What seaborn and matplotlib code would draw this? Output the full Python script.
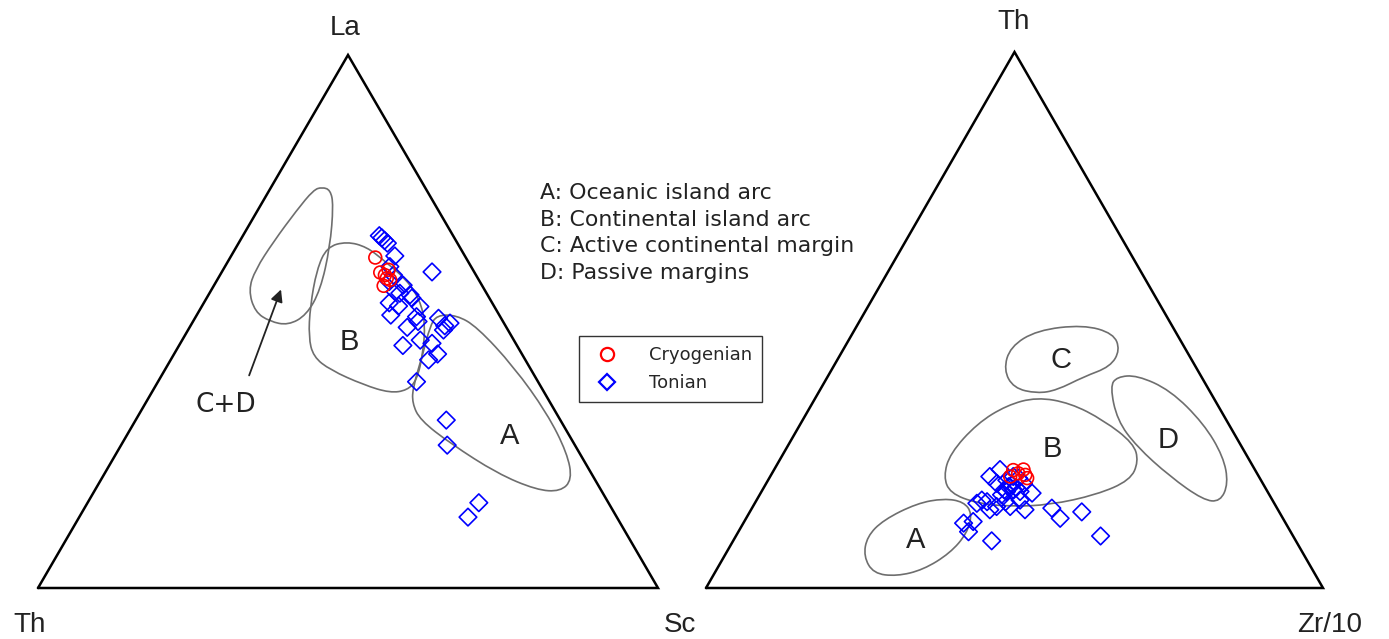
import numpy as np
import pandas as pd
import matplotlib
matplotlib.use("Agg")
import matplotlib.pyplot as plt
from matplotlib.path import Path
from matplotlib.patches import PathPatch
from matplotlib.lines import Line2D
import seaborn as sns

sns.set_style("white")
plt.rcParams["font.family"] = ["Liberation Sans", "DejaVu Sans"]

# La-Th-Sc diagram (values in %: La = top, Sc = right, Th = rest)
la_cryo = [62.0, 59.2, 58.7, 58.1, 56.7, 57.8, 59.7]
sc_cryo = [23.4, 25.6, 26.6, 27.2, 27.4, 27.9, 26.7]

la_ton = [66.1, 65.7, 65.2, 64.7, 62.3, 59.3, 60.3, 57.5, 56.8, 55.0, 54.4, 53.5,
          52.9, 52.8, 51.2, 50.9, 50.0, 48.9, 50.6, 49.2, 49.7, 48.4, 46.5, 45.5,
          45.9, 43.9, 42.8, 38.7, 31.5, 26.8, 16.0, 13.3, 55.6, 55.3, 58.7]
sc_ton = [22.0, 22.6, 23.3, 24.0, 26.4, 33.9, 26.6, 27.9, 30.5, 32.5, 33.1, 29.9,
          31.7, 35.2, 31.3, 35.6, 36.3, 35.1, 39.3, 41.0, 41.6, 41.2, 38.4, 36.1,
          40.6, 42.5, 41.6, 41.7, 50.1, 52.6, 63.1, 62.7, 29.8, 30.7, 28.0]

# field outlines, La-Th-Sc
cd_la = [74.7, 71.9, 64.0, 55.9, 51.2, 49.3, 50.0, 51.8, 55.9, 59.7, 65.0, 70.9, 74.7, 75.2]
cd_sc = [9.8, 11.7, 15.1, 17.6, 17.7, 15.7, 12.4, 9.1, 6.0, 5.2, 5.5, 6.3, 7.1, 8.2]
b1_la = [64.0, 65.0, 64.0, 61.5, 57.8, 54.0, 49.7, 44.0, 39.0, 37.1, 36.6, 38.1, 40.9,
         43.4, 47.1, 52.8, 59.7]
b1_sc = [14.6, 17.3, 21.0, 25.0, 30.6, 34.6, 37.6, 40.1, 41.6, 41.0, 38.5, 33.5, 26.7,
         22.7, 20.1, 17.5, 15.1]
a1_la = [51.2, 51.2, 49.0, 41.5, 32.8, 25.3, 20.3, 18.1, 18.4, 21.5, 27.1, 31.5, 34.7,
         37.8, 44.0, 49.0]
a1_sc = [38.7, 41.9, 46.3, 56.0, 65.7, 72.7, 76.0, 75.2, 71.2, 63.3, 53.0, 45.9, 43.0,
         41.6, 40.1, 38.7]

# Th-Sc-Zr/10 diagram (values in %: Th = top, Zr/10 = right)
th_cryo = [22.0, 22.1, 21.1, 21.4, 20.5, 20.8]
zr_cryo = [38.8, 40.4, 41.2, 39.9, 41.8, 38.9]

th_ton = [22.1, 20.8, 19.5, 20.1, 20.8, 20.5, 19.5, 17.7, 18.9, 18.3, 18.0, 16.4,
          15.8, 16.1, 14.6, 15.2, 16.1, 15.2, 16.4, 14.6, 14.9, 13.0, 14.2, 9.7,
          12.1, 12.4, 10.5, 8.8, 17.4, 18.0, 19.2, 18.7, 18.3]
zr_ton = [36.6, 35.6, 37.4, 38.7, 39.4, 40.4, 41.7, 44.0, 39.6, 40.7, 41.9, 36.5,
          36.0, 37.5, 38.7, 39.5, 40.5, 41.7, 42.7, 44.4, 48.6, 50.9, 53.8, 59.1,
          35.7, 37.1, 37.3, 41.9, 39.2, 39.7, 40.0, 40.9, 39.2]

a2_th = [5.9, 9.6, 12.7, 15.8, 16.7, 16.1, 13.9, 10.2, 6.5, 3.4, 2.2, 2.7]
a2_zr = [22.6, 21.3, 22.4, 26.3, 30.2, 33.7, 36.2, 37.2, 36.3, 33.5, 29.8, 25.8]
b2_th = [20.8, 25.1, 30.7, 34.1, 35.6, 34.5, 31.3, 27.0, 23.6, 20.1, 17.4, 15.5, 15.2,
         15.8, 17.7]
b2_zr = [28.1, 27.0, 28.6, 31.7, 35.8, 41.8, 48.8, 55.8, 58.3, 58.7, 54.6, 48.0, 41.7,
         36.0, 30.7]
c2_th = [40.7, 45.0, 48.1, 49.1, 47.5, 44.4, 41.3, 39.4, 36.9, 36.3, 37.3]
c2_zr = [27.9, 26.8, 29.6, 36.6, 42.3, 44.9, 44.9, 41.5, 38.4, 35.5, 31.2]
d2_th = [37.6, 39.4, 39.7, 36.9, 30.7, 24.5, 19.5, 16.1, 16.4, 20.8, 26.4, 31.3]
d2_zr = [46.7, 46.9, 50.0, 56.8, 65.3, 71.6, 74.9, 75.3, 72.4, 64.8, 56.6, 51.0]

legend_text = ["A: Oceanic island arc", "B: Continental island arc",
               "C: Active continental margin", "D: Passive margins"]

H = np.sqrt(3) / 2


def tern(top, right):
    top = np.asarray(top) / 100.0
    right = np.asarray(right) / 100.0
    return right + top / 2, top * H


def smooth_field(ax, top, right):
    x, y = tern(top, right)
    pts = np.column_stack([x, y])
    mids = (pts + np.roll(pts, -1, axis=0)) / 2
    verts = [mids[-1]]
    codes = [Path.MOVETO]
    for p, m in zip(pts, mids):
        verts += [p, m]
        codes += [Path.CURVE3, Path.CURVE3]
    ax.add_patch(PathPatch(Path(verts, codes), fill=False, ec="#6e6e6e", lw=1.2))


def frame(ax):
    ax.plot([0, 1, 0.5, 0], [0, 0, H, 0], color="black", lw=1.8,
            solid_joinstyle="miter", clip_on=False)
    ax.set_xlim(0, 1)
    ax.set_ylim(0, H)
    ax.axis("off")


def points(ax, top_c, right_c, top_t, right_t):
    df = pd.concat([
        pd.DataFrame({"top": top_t, "right": right_t, "age": "Tonian"}),
        pd.DataFrame({"top": top_c, "right": right_c, "age": "Cryogenian"}),
    ])
    df["x"], df["y"] = tern(df["top"], df["right"])
    for age, mk, col, s in [("Tonian", "D", "blue", 80), ("Cryogenian", "o", "red", 85)]:
        sub = df[df["age"] == age]
        sns.scatterplot(data=sub, x="x", y="y", marker=mk, s=s, facecolor="none",
                        edgecolor=col, linewidth=1.2, ax=ax, clip_on=False, zorder=3)


fig = plt.figure(figsize=(13.89, 6.39), dpi=100)

# left: La-Th-Sc
ax1 = fig.add_axes([38 / 1389, 51 / 639, 620 / 1389, 533 / 639])
frame(ax1)
smooth_field(ax1, cd_la, cd_sc)
smooth_field(ax1, b1_la, b1_sc)
smooth_field(ax1, a1_la, a1_sc)
points(ax1, la_cryo, sc_cryo, la_ton, sc_ton)
ax1.set_xlabel("")
ax1.set_ylabel("")
ax1.text(0.495, 0.91, "La", fontsize=20, ha="center", va="center", color="#222222")
ax1.text(-0.013, -0.06, "Th", fontsize=20, ha="center", va="center", color="#222222")
ax1.text(1.035, -0.06, "Sc", fontsize=20, ha="center", va="center", color="#222222")
x, y = tern([46.2], [27.1])
ax1.text(x[0], y[0], "B", fontsize=21, ha="center", va="center", color="#222222")
x, y = tern([28.5], [61.75])
ax1.text(x[0], y[0], "A", fontsize=21, ha="center", va="center", color="#222222")
xt, yt = tern([39.4], [14.2])
xh, yh = tern([56.5], [11.1])
ax1.annotate("", xy=(xh[0], yh[0]), xytext=(xt[0], yt[0]),
             arrowprops=dict(arrowstyle="-|>", color="#222222", lw=1.3, mutation_scale=18))
x, y = tern([34.3], [13.15])
ax1.text(x[0], y[0], "C+D", fontsize=19, ha="center", va="center", color="#222222",
         family="DejaVu Sans")

# right: Th-Sc-Zr/10
ax2 = fig.add_axes([706 / 1389, 51 / 639, 617 / 1389, 536 / 639])
frame(ax2)
smooth_field(ax2, a2_th, a2_zr)
smooth_field(ax2, b2_th, b2_zr)
smooth_field(ax2, c2_th, c2_zr)
smooth_field(ax2, d2_th, d2_zr)
points(ax2, th_cryo, zr_cryo, th_ton, zr_ton)
ax2.set_xlabel("")
ax2.set_ylabel("")
ax2.text(0.499, 0.914, "Th", fontsize=20, ha="center", va="center", color="#222222")
ax2.text(1.011, -0.06, "Zr/10", fontsize=20, ha="center", va="center", color="#222222")
for lab, t, r in [("C", 42.5, 36.25), ("B", 25.9, 43.25), ("D", 27.6, 61.1), ("A", 9.0, 29.5)]:
    x, y = tern([t], [r])
    ax2.text(x[0], y[0], lab, fontsize=21, ha="center", va="center", color="#222222")

# field key
for i, s in enumerate(legend_text):
    fig.text(540 / 1389, 1 - (193 + 26.5 * i) / 639, s, fontsize=15.8, ha="left",
             va="center", color="#222222", family="DejaVu Sans")

handles = [
    Line2D([], [], marker="o", ls="none", mfc="none", mec="red", mew=1.6, ms=9.5),
    Line2D([], [], marker="D", ls="none", mfc="none", mec="blue", mew=1.6, ms=8.5),
]
fig.legend(handles, ["Cryogenian", "Tonian"], loc="upper left",
           bbox_to_anchor=(579 / 1389, 1 - 336 / 639), frameon=True, fancybox=False,
           edgecolor="black", borderpad=0.55, handletextpad=1.3,
           labelspacing=0.55, borderaxespad=0, handlelength=2.0,
           prop={"family": "DejaVu Sans", "size": 13})

fig.savefig("out.png", dpi=100)
